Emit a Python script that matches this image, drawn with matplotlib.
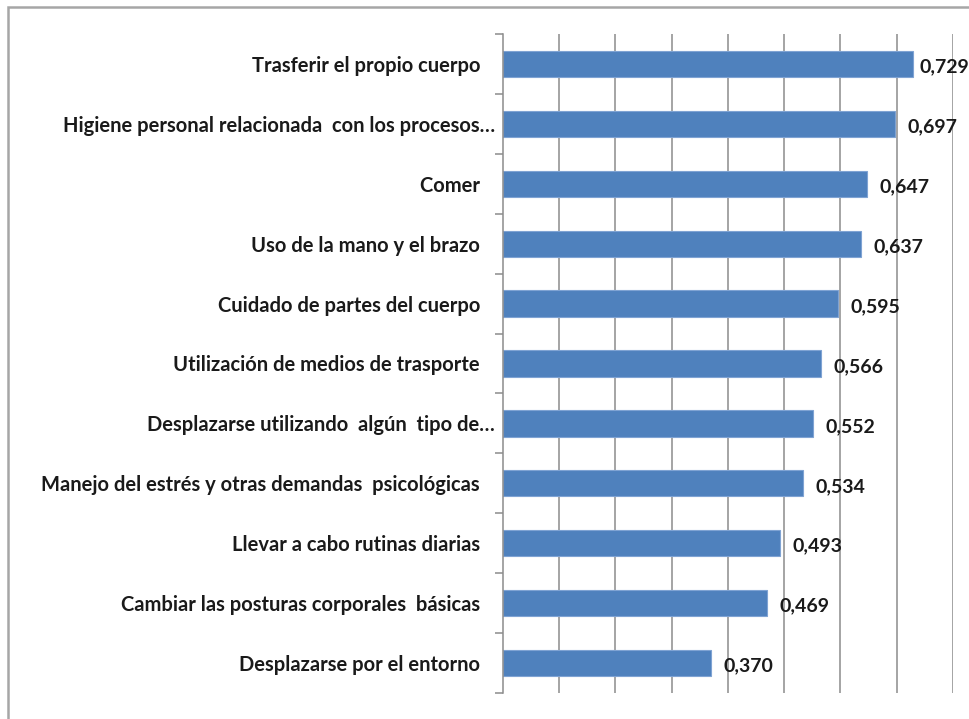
import matplotlib.pyplot as plt
import matplotlib.patches as mpatches
import numpy as np

plt.rcParams['font.family'] = ['Lato', 'DejaVu Sans']

categorias = [
    "Trasferir el propio cuerpo   ",
    "Higiene personal relacionada  con los procesos…",
    "Comer   ",
    "Uso de la mano y el brazo   ",
    "Cuidado de partes del cuerpo   ",
    "Utilización de medios de trasporte   ",
    "Desplazarse utilizando  algún  tipo de…",
    "Manejo del estrés y otras demandas  psicológicas   ",
    "Llevar a cabo rutinas diarias   ",
    "Cambiar las posturas corporales  básicas   ",
    "Desplazarse por el entorno   ",
]
valores = [0.729, 0.697, 0.647, 0.637, 0.595, 0.566, 0.552, 0.534, 0.493, 0.469, 0.370]
etiquetas = ["0,729", "0,697", "0,647", "0,637", "0,595", "0,566",
             "0,552", "0,534", "0,493", "0,469", "0,370"]

fig = plt.figure(figsize=(9.69, 7.19), dpi=100)
ax = fig.add_axes([503 / 969, 1 - 693 / 719, 450 / 969, 659 / 719])

y = np.arange(len(valores))
ax.barh(y, valores, height=0.44, color="#4F81BD", edgecolor="#7FA3D3",
        linewidth=0.8, zorder=2)

for yi, v, t in zip(y, valores, etiquetas):
    # la etiqueta más larga se acerca a la barra para no salirse
    desplaz = 0.012 if v > 0.72 else 0.022
    ax.text(v + desplaz, yi + 0.05, t, va="center", ha="left",
            fontsize=14, fontweight="bold", color="#1a1a1a", zorder=3)

ax.set_xlim(0, 0.8)
ax.set_ylim(len(valores) - 0.5, -0.5)
ax.set_xticks(np.arange(0.1, 0.81, 0.1))
ax.set_xticklabels([])
ax.tick_params(axis="x", length=0)
ax.grid(axis="x", color="#8c8c8c", linewidth=1.1, zorder=1)

ax.set_yticks(y)
ax.set_yticklabels(categorias, fontsize=14.5, fontweight="bold", color="#1a1a1a")
ax.tick_params(axis="y", which="major", length=0, pad=6)
ax.set_yticks(np.arange(-0.5, len(valores), 1), minor=True)
ax.tick_params(axis="y", which="minor", length=6, color="#8c8c8c", width=1.1)

for s in ["top", "right", "bottom"]:
    ax.spines[s].set_visible(False)
ax.spines["left"].set_color("#8c8c8c")
ax.spines["left"].set_linewidth(1.1)

marco = mpatches.Rectangle((8 / 969, -0.1), 1.1, 1 - 7 / 719 + 0.1,
                           transform=fig.transFigure, fill=False,
                           edgecolor="#a6a6a6", linewidth=1.8)
fig.patches.append(marco)

fig.savefig("out.png", dpi=100)
